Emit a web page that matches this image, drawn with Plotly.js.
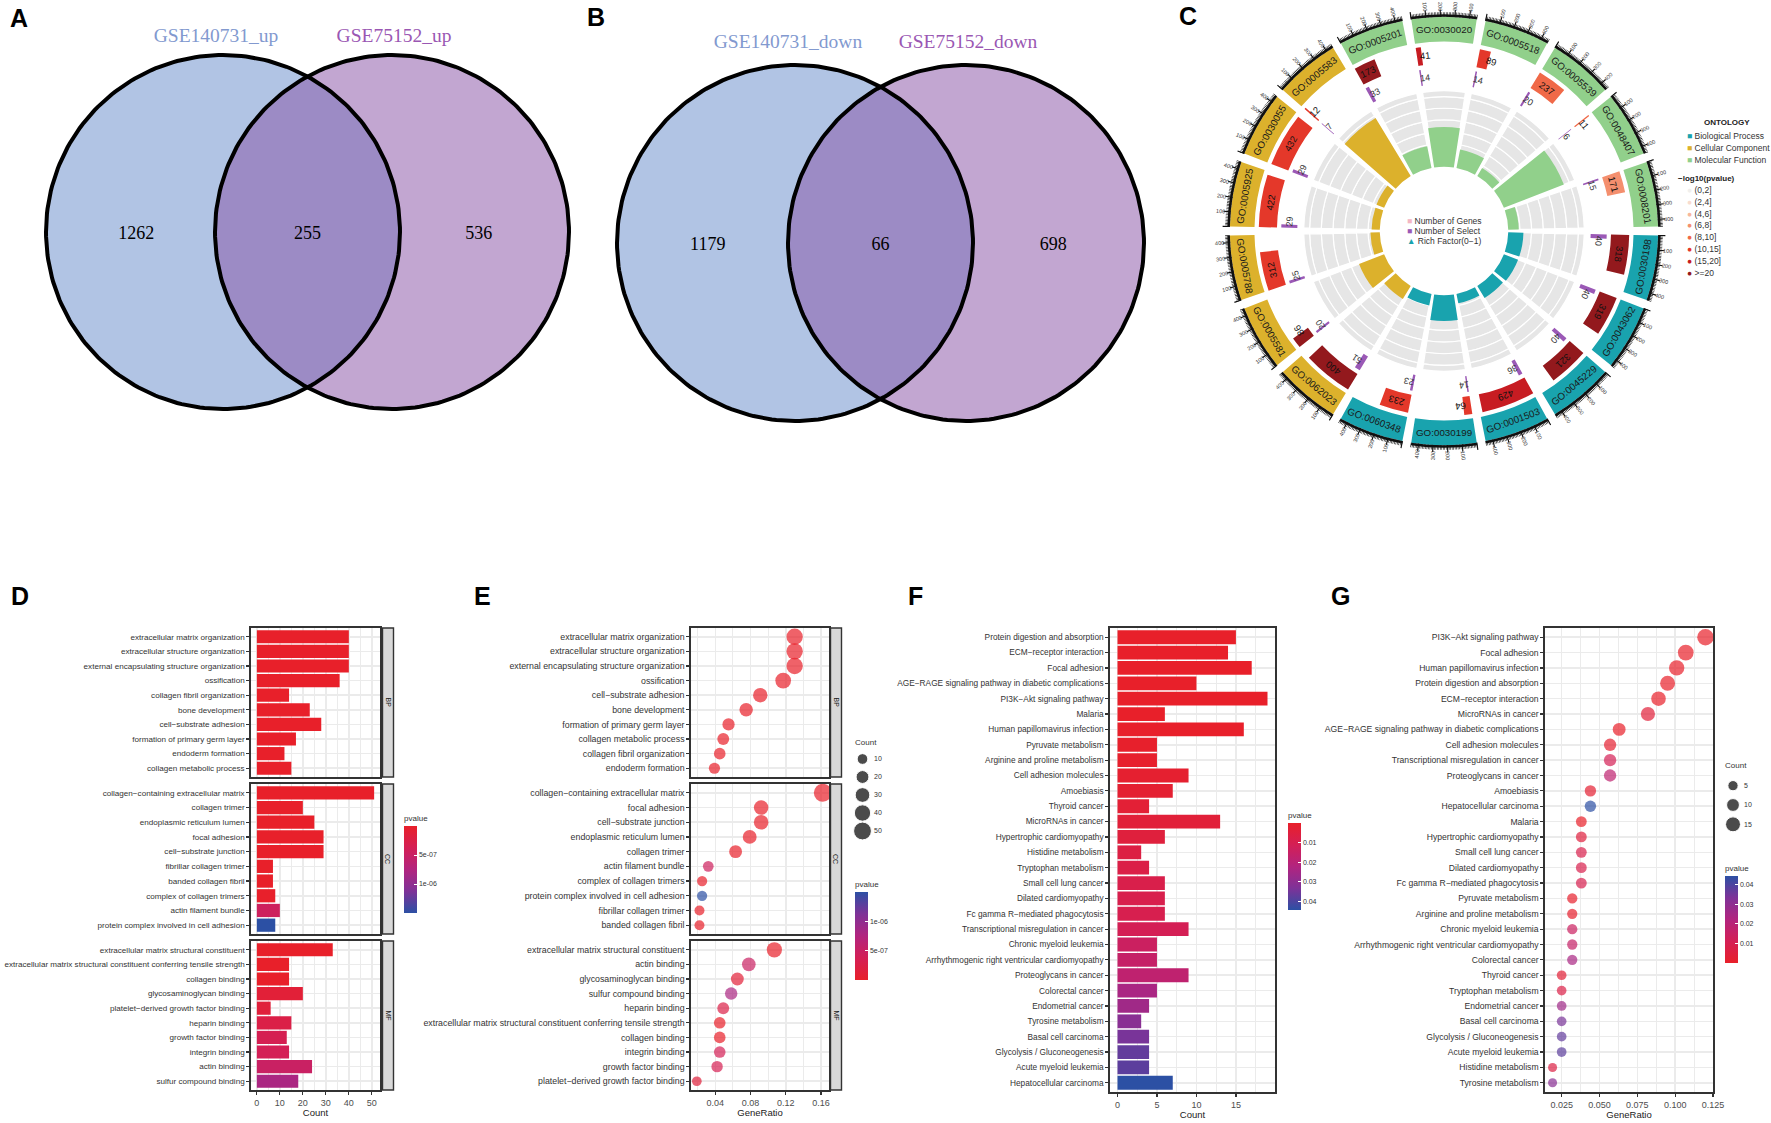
<!DOCTYPE html>
<html><head><meta charset="utf-8">
<script src="https://cdn.plot.ly/plotly-3.0.1.min.js"></script>
<style>html,body{margin:0;padding:0;background:#fff}#chart{width:1771px;height:1123px}</style>
</head><body><div id="chart"></div>
<script>
const W = 1771, H = 1123;
const FONT = 'Liberation Sans, Arial, sans-serif';
const SERIF = 'Liberation Serif, Times New Roman, serif';

// ================= DATA =================
// Panel A / B (Venn)
const vennUpLabels = ['GSE140731_up', 'GSE75152_up'];
const vennUpCounts = [1262, 255, 536];
const vennDownLabels = ['GSE140731_down', 'GSE75152_down'];
const vennDownCounts = [1179, 66, 698];

// Panel C (GO circle), clockwise from top
const goIds = ['GO:0030020','GO:0005518','GO:0005539','GO:0048407','GO:0008201','GO:0030198','GO:0043062','GO:0045229','GO:0001503','GO:0030199','GO:0060348','GO:0062023','GO:0005581','GO:0005788','GO:0005925','GO:0030055','GO:0005583','GO:0005201'];
const goOntology = ['MF','MF','MF','MF','MF','BP','BP','BP','BP','BP','BP','CC','CC','CC','CC','CC','CC','MF'];
const goGenes = [41,89,237,11,171,318,319,321,429,64,233,400,86,312,422,432,12,173];
const goSelect = [14,14,20,6,15,40,40,40,36,14,23,51,20,25,29,29,7,33];
const goRich = [0.34,0.16,0.08,0.55,0.09,0.13,0.13,0.12,0.08,0.22,0.10,0.13,0.23,0.08,0.07,0.07,0.58,0.19];
const goPClass = ['(15,20]','(10,15]','(8,10]','(8,10]','(6,8]','>=20','>=20','>=20','(15,20]','(10,15]','(10,15]','>=20','>=20','(10,15]','(10,15]','(10,15]','(10,15]','>=20'];
const pClasses = ['(0,2]','(2,4]','(4,6]','(6,8]','(8,10]','(10,15]','(15,20]','>=20'];
const ontologyKeys = ['BP','CC','MF'];
const ontologyNames = ['Biological Process','Cellular Component','Molecular Function'];
const ringTicks = [100,200,300,400];

// Panel D (GO bar)
const dTermsBP = ['extracellular matrix organization','extracellular structure organization','external encapsulating structure organization','ossification','collagen fibril organization','bone development','cell−substrate adhesion','formation of primary germ layer','endoderm formation','collagen metabolic process'];
const dCountBP = [40,40,40,36,14,23,28,17,12,15];
const dPBP = [2e-21,2e-21,2e-21,5e-16,3e-13,1e-10,4e-12,6e-10,2e-9,3e-9];
const dTermsCC = ['collagen−containing extracellular matrix','collagen trimer','endoplasmic reticulum lumen','focal adhesion','cell−substrate junction','fibrillar collagen trimer','banded collagen fibril','complex of collagen trimers','actin filament bundle','protein complex involved in cell adhesion'];
const dCountCC = [51,20,25,29,29,7,7,8,10,8];
const dPCC = [1e-26,3e-17,2e-11,5e-10,6e-10,2e-9,2e-9,8e-9,4.5e-7,1.5e-6];
const dTermsMF = ['extracellular matrix structural constituent','extracellular matrix structural constituent conferring tensile strength','collagen binding','glycosaminoglycan binding','platelet−derived growth factor binding','heparin binding','growth factor binding','integrin binding','actin binding','sulfur compound binding'];
const dCountMF = [33,14,14,20,6,15,13,14,24,18];
const dPMF = [1e-19,2e-12,5e-11,1.2e-7,1.5e-7,2.5e-7,3.5e-7,3.8e-7,5e-7,8e-7];

// Panel E (GO dot)
const eTermsBP = ['extracellular matrix organization','extracellular structure organization','external encapsulating structure organization','ossification','cell−substrate adhesion','bone development','formation of primary germ layer','collagen metabolic process','collagen fibril organization','endoderm formation'];
const eRatioBP = [0.130,0.130,0.130,0.117,0.091,0.075,0.055,0.049,0.045,0.039];
const eCountBP = [40,40,40,36,28,23,17,15,14,12];
const ePBP = [2e-21,2e-21,2e-21,5e-16,4e-12,1e-10,6e-10,3e-9,3e-13,2e-9];
const eTermsCC = ['collagen−containing extracellular matrix','focal adhesion','cell−substrate junction','endoplasmic reticulum lumen','collagen trimer','actin filament bundle','complex of collagen trimers','protein complex involved in cell adhesion','fibrillar collagen trimer','banded collagen fibril'];
const eRatioCC = [0.162,0.092,0.092,0.079,0.063,0.032,0.025,0.025,0.022,0.022];
const eCountCC = [51,29,29,25,20,10,8,8,7,7];
const ePCC = [1e-26,5e-10,6e-10,2e-11,3e-17,4.5e-7,8e-9,1.5e-6,2e-9,2e-9];
const eTermsMF = ['extracellular matrix structural constituent','actin binding','glycosaminoglycan binding','sulfur compound binding','heparin binding','extracellular matrix structural constituent conferring tensile strength','collagen binding','integrin binding','growth factor binding','platelet−derived growth factor binding'];
const eRatioMF = [0.107,0.078,0.065,0.058,0.049,0.045,0.045,0.045,0.042,0.019];
const eCountMF = [33,24,20,18,15,14,14,14,13,6];
const ePMF = [1e-19,5e-7,1.2e-7,8e-7,2.5e-7,2e-12,5e-11,3.8e-7,3.5e-7,1.5e-7];
const eSizeLegend = [10,20,30,40,50];

// Panel F (KEGG bar)
const fTerms = ['Protein digestion and absorption','ECM−receptor interaction','Focal adhesion','AGE−RAGE signaling pathway in diabetic complications','PI3K−Akt signaling pathway','Malaria','Human papillomavirus infection','Pyruvate metabolism','Arginine and proline metabolism','Cell adhesion molecules','Amoebiasis','Thyroid cancer','MicroRNAs in cancer','Hypertrophic cardiomyopathy','Histidine metabolism','Tryptophan metabolism','Small cell lung cancer','Dilated cardiomyopathy','Fc gamma R−mediated phagocytosis','Transcriptional misregulation in cancer','Chronic myeloid leukemia','Arrhythmogenic right ventricular cardiomyopathy','Proteoglycans in cancer','Colorectal cancer','Endometrial cancer','Tyrosine metabolism','Basal cell carcinoma','Glycolysis / Gluconeogenesis','Acute myeloid leukemia','Hepatocellular carcinoma'];
const fCount = [15,14,17,10,19,6,16,5,5,9,7,4,13,6,3,4,6,6,6,9,5,5,9,5,4,3,4,4,4,7];
const fP = [1e-8,3e-8,5e-7,2e-5,5e-5,1e-4,2e-4,5e-4,8e-4,0.0015,0.002,0.003,0.004,0.005,0.0065,0.0075,0.0085,0.009,0.0095,0.011,0.014,0.016,0.018,0.024,0.026,0.031,0.034,0.037,0.038,0.0445];

// Panel G (KEGG dot)
const gTerms = ['PI3K−Akt signaling pathway','Focal adhesion','Human papillomavirus infection','Protein digestion and absorption','ECM−receptor interaction','MicroRNAs in cancer','AGE−RAGE signaling pathway in diabetic complications','Cell adhesion molecules','Transcriptional misregulation in cancer','Proteoglycans in cancer','Amoebiasis','Hepatocellular carcinoma','Malaria','Hypertrophic cardiomyopathy','Small cell lung cancer','Dilated cardiomyopathy','Fc gamma R−mediated phagocytosis','Pyruvate metabolism','Arginine and proline metabolism','Chronic myeloid leukemia','Arrhythmogenic right ventricular cardiomyopathy','Colorectal cancer','Thyroid cancer','Tryptophan metabolism','Endometrial cancer','Basal cell carcinoma','Glycolysis / Gluconeogenesis','Acute myeloid leukemia','Histidine metabolism','Tyrosine metabolism'];
const gRatio = [0.120,0.107,0.101,0.095,0.089,0.082,0.063,0.057,0.057,0.057,0.044,0.044,0.038,0.038,0.038,0.038,0.038,0.032,0.032,0.032,0.032,0.032,0.025,0.025,0.025,0.025,0.025,0.025,0.019,0.019];
const gCount = [19,17,16,15,14,13,10,9,9,9,7,7,6,6,6,6,6,5,5,5,5,5,4,4,4,4,4,4,3,3];
const gP = [5e-5,5e-7,2e-4,1e-8,3e-8,0.004,2e-5,0.0015,0.011,0.018,0.002,0.0445,1e-4,0.005,0.0085,0.009,0.0095,5e-4,8e-4,0.014,0.016,0.024,0.003,0.0075,0.026,0.034,0.037,0.038,0.0065,0.031];
const gSizeLegend = [5,10,15];

// ================= STYLE =================
const ontColor = {BP:'#19a3ae', CC:'#dcb12c', MF:'#91d08b'};
const pClassColor = ['#f0efed','#f8dccf','#f7b79c','#f48f6e','#f06948','#e4382a','#c71c22','#93191d'];
const selectColor = '#9b59b6';
const csRB = [[0,'#e8202a'],[0.25,'#d41f55'],[0.5,'#b2247f'],[0.75,'#7e3298'],[1,'#2c50a4']];
const csBR = csRB.map(([v,c]) => [1-v, c]).reverse();
const GRID = '#ebebeb', LINE = '#333333';
// point-size scale (area ~ offset + count), like ggplot's scale_size
const E_SIZE = {offset:12.6, ref:0.393};
const G_SIZE = {offset:4, ref:0.17};

const traces = [];
const ann = [];
const shapes = [];
function P(xpx, ypx){ return {x: xpx/W, y: 1 - ypx/H}; }
function addAnn(o){ ann.push(Object.assign({showarrow:false, xref:'paper', yref:'paper', xanchor:'center', yanchor:'middle', font:{family:FONT, size:8, color:'#222'}}, o)); }

// ================= VENN (A, B) =================
function circ(cx, cy, r, a0, a1, n){ const xs=[], ys=[]; for(let k=0;k<=n;k++){ const t=a0+(a1-a0)*k/n; xs.push(cx+r*Math.cos(t)); ys.push(cy+r*Math.sin(t)); } return [xs, ys]; }
function addVenn(c1x, c2x, cy, r, labels, counts, labelY){
  const base = {type:'scatter', xaxis:'x11', yaxis:'y11', mode:'lines', hoverinfo:'skip', showlegend:false};
  const [x1,y1] = circ(c1x, cy, r, 0, 2*Math.PI, 240);
  const [x2,y2] = circ(c2x, cy, r, 0, 2*Math.PI, 240);
  traces.push(Object.assign({}, base, {x:x1, y:y1, fill:'toself', fillcolor:'#b1c4e4', line:{width:0}}));
  traces.push(Object.assign({}, base, {x:x2, y:y2, fill:'toself', fillcolor:'#c2a6d1', line:{width:0}}));
  const al = Math.acos((c2x-c1x)/2/r);
  const [lx1,ly1] = circ(c1x, cy, r, -al, al, 80);
  const [lx2,ly2] = circ(c2x, cy, r, Math.PI-al, Math.PI+al, 80);
  traces.push(Object.assign({}, base, {x:lx1.concat(lx2), y:ly1.concat(ly2), fill:'toself', fillcolor:'#9c8bc5', line:{width:0}}));
  traces.push(Object.assign({}, base, {x:x1, y:y1, line:{color:'#000', width:4}}));
  traces.push(Object.assign({}, base, {x:x2, y:y2, line:{color:'#000', width:4}}));
  traces.push({type:'scatter', xaxis:'x11', yaxis:'y11', mode:'text', hoverinfo:'skip', showlegend:false,
    x:[c1x-0.49*r, (c1x+c2x)/2, c2x+0.49*r], y:[cy+2, cy+2, cy+2], text:counts.map(String),
    textfont:{family:SERIF, size:18, color:'#000'}});
  traces.push({type:'scatter', xaxis:'x11', yaxis:'y11', mode:'text', hoverinfo:'skip', showlegend:false,
    x:[c1x-7, c2x+2], y:[labelY, labelY], text:labels,
    textfont:{family:SERIF, size:19.5, color:['#8299cf','#9a57b3']}});
}
addVenn(223, 392, 232, 177, vennUpLabels, vennUpCounts, 37);
addVenn(795, 966, 243, 178, vennDownLabels, vennDownCounts, 43);

// ================= GO CIRCLE (C) =================
const SPAN = 17.6, XMAX = 450;
const secAng = goIds.map((_, i) => i * 20);
function angAt(i, v){ return secAng[i] - SPAN/2 + v / XMAX * SPAN; }
const polarBase = {type:'barpolar', subplot:'polar', hoverinfo:'skip', showlegend:false};
const idxOf = (arr, key) => arr.map((k,i)=>k===key?i:-1).filter(i=>i>=0);
const R = {labIn:0.885, labH:0.115, geneIn:0.78, geneH:0.085, selIn:0.685, selH:0.075, trIn:0.30, trH:0.355, trMax:0.65};

const trSc = R.trH / R.trMax;
for (let k = 0; k < 7; k++){
  const lo = k*0.1, hi = Math.min((k+1)*0.1, R.trMax);
  traces.push(Object.assign({}, polarBase, {theta:secAng, width:SPAN, base:R.trIn + lo*trSc, r:secAng.map(()=> (hi-lo)*trSc),
    marker:{color:'#e6e6e6', line:{color:'#ffffff', width:1.2}}}));
}
ontologyKeys.forEach(o => {
  const id = idxOf(goOntology, o);
  traces.push(Object.assign({}, polarBase, {theta:id.map(i=>secAng[i]), width:SPAN, base:R.trIn, r:id.map(i=>goRich[i]*trSc),
    marker:{color:ontColor[o], line:{width:0}}}));
  traces.push(Object.assign({}, polarBase, {theta:id.map(i=>secAng[i]), width:SPAN, base:R.labIn, r:id.map(()=>R.labH),
    marker:{color:ontColor[o], line:{width:0}}}));
});
pClasses.forEach((c, ci) => {
  const id = idxOf(goPClass, c);
  traces.push(Object.assign({}, polarBase, {theta:id.map(i=>angAt(i, goGenes[i]/2)), width:id.map(i=>goGenes[i]/XMAX*SPAN),
    base:R.geneIn, r:id.map(()=>R.geneH), marker:{color:pClassColor[ci], line:{width:0}}}));
});
traces.push(Object.assign({}, polarBase, {theta:goIds.map((_,i)=>angAt(i, goSelect[i]/2)), width:goSelect.map(v=>v/XMAX*SPAN),
  base:R.selIn, r:goIds.map(()=>R.selH), marker:{color:selectColor, line:{width:0}}}));
traces.push(Object.assign({}, polarBase, {theta:secAng, width:SPAN, base:1.0, r:secAng.map(()=>0.012), marker:{color:'#111', line:{width:0}}}));
const minT = [], majT = [];
goIds.forEach((_, i) => {
  for (let v = 0; v <= XMAX; v += 10) minT.push(angAt(i, v));
  ringTicks.forEach(v => majT.push(angAt(i, v)));
  majT.push(angAt(i, 0));
});
traces.push(Object.assign({}, polarBase, {theta:minT, width:0.16, base:1.0, r:minT.map(()=>0.022), marker:{color:'#111', line:{width:0}}}));
traces.push(Object.assign({}, polarBase, {theta:majT, width:0.3, base:1.0, r:majT.map(()=>0.034), marker:{color:'#111', line:{width:0}}}));

const CX = 1444, CY = 231, RPOLAR = 227, RMAX = 1.06, RPX = RPOLAR / RMAX;
function pp(r, deg){ const t = deg*Math.PI/180; return {x:(CX + r*RPX*Math.sin(t))/W, y:1 - (CY - r*RPX*Math.cos(t))/H}; }
const n360 = a => ((a % 360) + 360) % 360;
const n180 = a => { a = n360(a); return a > 180 ? a - 360 : a; };
const flip = a => { a = n360(a); return (a > 90 && a < 270) ? a - 180 : n180(a); };
goIds.forEach((g, i) => {
  addAnn(Object.assign(pp(R.labIn + R.labH/2, secAng[i]), {text:g, textangle:flip(secAng[i]), font:{family:FONT, size:9.8, color:'#1a1a1a'}}));
  const gv = goGenes[i] < 120 ? goGenes[i] + 28 : goGenes[i]/2;
  const ga = angAt(i, gv);
  addAnn(Object.assign(pp(R.geneIn + R.geneH/2, ga), {text:String(goGenes[i]), textangle:n180(ga), font:{family:FONT, size:9.5, color:'#111'}}));
  const sa = angAt(i, goSelect[i] + 26);
  addAnn(Object.assign(pp(R.selIn + R.selH/2, sa), {text:String(goSelect[i]), textangle:n180(sa), font:{family:FONT, size:9, color:'#333'}}));
  ringTicks.forEach(v => {
    const a = angAt(i, v), an = n360(a);
    addAnn(Object.assign(pp(1.05, a), {text:String(v), textangle:n180(an < 180 ? an - 90 : an - 270), font:{family:FONT, size:5.5, color:'#333'}}));
  });
});
[['#f4b6c4','■','Number of Genes'],[selectColor,'■','Number of Select'],[ontColor.BP,'▲','Rich Factor(0−1)']].forEach((e, k) => {
  addAnn(Object.assign(P(1405, 221 + k*10), {xanchor:'left', text:'<span style="color:'+e[0]+'">'+e[1]+'</span> '+e[2], font:{family:FONT, size:8.5, color:'#333'}}));
});
addAnn(Object.assign(P(1727, 123), {text:'<b>ONTOLOGY</b>', font:{family:FONT, size:8, color:'#222'}}));
ontologyNames.forEach((nm, k) => {
  addAnn(Object.assign(P(1685, 136 + k*12), {xanchor:'left', text:'<span style="color:'+ontColor[ontologyKeys[k]]+'">■</span> '+nm, font:{family:FONT, size:8.5, color:'#333'}}));
});
addAnn(Object.assign(P(1676, 179), {xanchor:'left', text:'<b>−log10(pvalue)</b>', font:{family:FONT, size:8, color:'#222'}}));
pClasses.forEach((c, k) => {
  addAnn(Object.assign(P(1685, 190 + k*11.8), {xanchor:'left', text:'<span style="color:'+pClassColor[k]+'">●</span> '+c, font:{family:FONT, size:8.5, color:'#333'}}));
});

// ================= D / E / F / G =================
const xD = [251, 380], xE = [691, 829], xF = [1110, 1275], xG = [1545, 1713];
const facets = [[628, 777], [784, 934], [941, 1090]];
const fullY = [628, 1092];
const dx = a => [a[0]/W, a[1]/W];
const dy = a => [1 - a[1]/H, 1 - a[0]/H];
const frame = {showline:true, mirror:true, linecolor:LINE, linewidth:1.7, zeroline:false, fixedrange:true};

function xAxis(dom, anchor, range, dtick, minorD, showLab, title, fmt){
  const o = Object.assign({}, frame, {domain:dx(dom), anchor, range, autorange:false, tick0:0, dtick,
    showgrid:true, gridcolor:GRID, gridwidth:1.6,
    minor:{tick0:0, dtick:minorD, showgrid:true, gridcolor:GRID, gridwidth:1},
    ticks: showLab ? 'outside' : '', ticklen:3, tickwidth:1.2, tickcolor:LINE,
    showticklabels:showLab, tickfont:{family:FONT, size:9, color:'#4d4d4d'}});
  if (fmt) o.tickformat = fmt;
  if (showLab) o.title = {text:title, font:{family:FONT, size:9.5, color:'#222'}, standoff:2};
  return o;
}
function yAxis(dom, anchor, cats, fs){
  return Object.assign({}, frame, {domain:dy(dom), anchor, type:'category', categoryorder:'array', categoryarray:cats,
    range:[cats.length - 0.4, -0.6], autorange:false, tickmode:'linear', tick0:0, dtick:1,
    showgrid:true, gridcolor:GRID, gridwidth:1.6, ticks:'outside', ticklen:3, tickwidth:1.2, tickcolor:LINE,
    tickfont:{family:FONT, size:fs, color:'#333'}});
}

const layout = {
  width:W, height:H, margin:{l:0, r:0, t:0, b:0}, paper_bgcolor:'#ffffff', plot_bgcolor:'rgba(0,0,0,0)',
  showlegend:false, font:{family:FONT, color:'#222'},
  polar:{domain:{x:[(CX-RPOLAR)/W, (CX+RPOLAR)/W], y:[1-(CY+RPOLAR)/H, 1-(CY-RPOLAR)/H]}, bgcolor:'rgba(0,0,0,0)', barmode:'overlay',
    radialaxis:{visible:false, range:[0, RMAX]}, angularaxis:{visible:false, rotation:90, direction:'clockwise'}}
};

const dTerms = [dTermsBP, dTermsCC, dTermsMF], dCnt = [dCountBP, dCountCC, dCountMF], dP = [dPBP, dPCC, dPMF];
const eTerms = [eTermsBP, eTermsCC, eTermsMF], eRat = [eRatioBP, eRatioCC, eRatioMF], eCnt = [eCountBP, eCountCC, eCountMF], eP = [ePBP, ePCC, ePMF];
const facetNames = ['BP','CC','MF'];
for (let f = 0; f < 3; f++){
  const ni = f + 1, ne = f + 4;
  const sx = ni === 1 ? '' : ni;
  layout['xaxis'+sx] = xAxis(xD, 'y'+sx, [-2.55, 53.55], 10, 5, f===2, 'Count');
  layout['yaxis'+sx] = yAxis(facets[f], 'x'+sx, dTerms[f], 8.1);
  traces.push({type:'bar', orientation:'h', xaxis:'x'+sx, yaxis:'y'+sx, x:dCnt[f], y:dTerms[f], width:0.9,
    marker:{color:dP[f].map(p => -p), coloraxis:'coloraxis', line:{width:0}}, hoverinfo:'skip', showlegend:false});
  layout['xaxis'+ne] = xAxis(xE, 'y'+ne, [0.0124, 0.169], 0.04, 0.02, f===2, 'GeneRatio');
  layout['yaxis'+ne] = yAxis(facets[f], 'x'+ne, eTerms[f], 8.8);
  traces.push({type:'scatter', mode:'markers', xaxis:'x'+ne, yaxis:'y'+ne, x:eRat[f], y:eTerms[f],
    marker:{size:eCnt[f].map(c => c + E_SIZE.offset), sizemode:'area', sizeref:E_SIZE.ref, color:eP[f], coloraxis:'coloraxis2', line:{width:0}},
    hoverinfo:'skip', showlegend:false});
  [[382.5, 393.5], [830.5, 841.5]].forEach(s => {
    shapes.push({type:'rect', xref:'paper', yref:'paper', x0:s[0]/W, x1:s[1]/W, y0:1-facets[f][1]/H, y1:1-facets[f][0]/H,
      fillcolor:'#d9d9d9', line:{color:LINE, width:1.4}});
    addAnn(Object.assign(P((s[0]+s[1])/2, (facets[f][0]+facets[f][1])/2), {text:facetNames[f], textangle:90, font:{family:FONT, size:7, color:'#1a1a1a'}}));
  });
}
layout.xaxis7 = xAxis(xF, 'y7', [-0.95, 19.95], 5, 2.5, true, 'Count');
layout.yaxis7 = yAxis(fullY, 'x7', fTerms, 8.3);
traces.push({type:'bar', orientation:'h', xaxis:'x7', yaxis:'y7', x:fCount, y:fTerms, width:0.9,
  marker:{color:fP.map(p => -p), coloraxis:'coloraxis3', line:{width:0}}, hoverinfo:'skip', showlegend:false});
layout.xaxis8 = xAxis(xG, 'y8', [0.014, 0.125], 0.025, 0.0125, true, 'GeneRatio', '.3f');
layout.yaxis8 = yAxis(fullY, 'x8', gTerms, 8.6);
traces.push({type:'scatter', mode:'markers', xaxis:'x8', yaxis:'y8', x:gRatio, y:gTerms,
  marker:{size:gCount.map(c => c + G_SIZE.offset), sizemode:'area', sizeref:G_SIZE.ref, color:gP, coloraxis:'coloraxis4', line:{width:0}},
  hoverinfo:'skip', showlegend:false});

function sizeLegend(nx, xdomPx, ydomPx, vals, sc){
  layout['xaxis'+nx] = {domain:dx(xdomPx), anchor:'y'+nx, range:[-1, 1], visible:false, fixedrange:true};
  layout['yaxis'+nx] = {domain:dy(ydomPx), anchor:'x'+nx, type:'category', categoryorder:'array', categoryarray:vals.map(String),
    range:[vals.length - 0.5, -0.5], autorange:false, side:'right', showline:false, showgrid:false, zeroline:false, ticks:'',
    tickfont:{family:FONT, size:7, color:'#333'}, fixedrange:true};
  traces.push({type:'scatter', mode:'markers', xaxis:'x'+nx, yaxis:'y'+nx, x:vals.map(()=>0), y:vals.map(String),
    marker:{size:vals.map(c => c + sc.offset), sizemode:'area', sizeref:sc.ref, color:'#000'}, cliponaxis:false, hoverinfo:'skip', showlegend:false});
}
sizeLegend(9, [852, 873], [750, 840], eSizeLegend, E_SIZE);
sizeLegend(10, [1723, 1743], [776, 834], gSizeLegend, G_SIZE);
addAnn(Object.assign(P(866, 742), {text:'Count', font:{family:FONT, size:8, color:'#333'}}));
addAnn(Object.assign(P(1736, 765), {text:'Count', font:{family:FONT, size:8, color:'#333'}}));

layout.xaxis11 = {domain:[0, 1160/W], anchor:'y11', range:[0, 1160], visible:false, fixedrange:true};
layout.yaxis11 = {domain:[1 - 450/H, 1], anchor:'x11', range:[450, 0], visible:false, fixedrange:true};

function cbar(xPx, yTop, yBot, tickvals, ticktext){
  return {x:xPx/W, xanchor:'left', xpad:0, ypad:0, y:1-(yTop+yBot)/2/H, yanchor:'middle', len:(yBot-yTop)/H, lenmode:'fraction',
    thickness:13, thicknessmode:'pixels', outlinewidth:0, ticks:'inside', ticklen:3, tickcolor:'#ffffff', tickwidth:1,
    tickmode:'array', tickvals, ticktext, tickfont:{family:FONT, size:7, color:'#333'},
    title:{text:'pvalue', side:'top', font:{family:FONT, size:8, color:'#333'}}};
}
layout.coloraxis = {colorscale:csBR, cmin:-1.5e-6, cmax:0, colorbar:cbar(404, 812, 913, [-5e-7,-1e-6], ['5e-07','1e-06'])};
layout.coloraxis2 = {colorscale:csRB, cmin:0, cmax:1.5e-6, colorbar:cbar(855, 878, 980, [5e-7,1e-6], ['5e-07','1e-06'])};
layout.coloraxis3 = {colorscale:csBR, cmin:-0.0445, cmax:0, colorbar:cbar(1288, 809, 910, [-0.01,-0.02,-0.03,-0.04], ['0.01','0.02','0.03','0.04'])};
layout.coloraxis4 = {colorscale:csRB, cmin:0, cmax:0.0445, colorbar:cbar(1725, 862, 963, [0.01,0.02,0.03,0.04], ['0.01','0.02','0.03','0.04'])};

[['A',19,18],['B',596,17],['C',1188,16],['D',20,596],['E',482,596],['F',915,596],['G',1340,596]].forEach(l => {
  addAnn(Object.assign(P(l[1], l[2]), {text:'<b>'+l[0]+'</b>', font:{family:FONT, size:25, color:'#000'}}));
});

layout.annotations = ann;
layout.shapes = shapes;
Plotly.newPlot('chart', traces, layout, {displayModeBar:false, staticPlot:true});
</script>
</body></html>
